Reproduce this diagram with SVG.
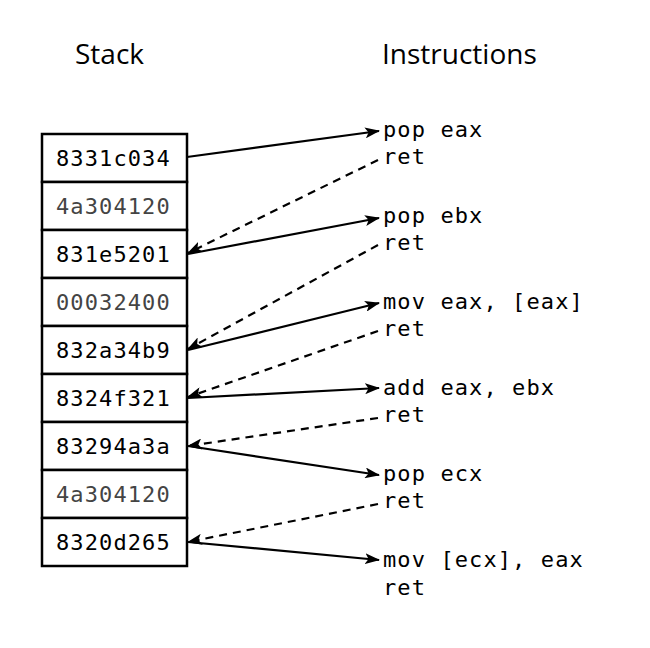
<svg xmlns="http://www.w3.org/2000/svg" width="650" height="648" viewBox="0 0 650 648">
<style>
.h{font-family:"Open Sans","Noto Sans",sans-serif;font-size:28px;fill:#000}
.m{font-family:"DejaVu Sans Mono",monospace;font-size:22px;letter-spacing:1.1px;fill:#000}
.g{fill:#444}
.cell{fill:#fff;stroke:#000;stroke-width:2.5}
.s{fill:none;stroke:#000;stroke-width:2.2}
.d{fill:none;stroke:#000;stroke-width:2.2;stroke-dasharray:8 6}
</style>
<defs>
<marker id="ah" viewBox="0 0 15 11" refX="14" refY="5.5" markerWidth="15" markerHeight="11" markerUnits="userSpaceOnUse" orient="auto">
<path d="M0,0 L15,5.5 L0,11 L3.5,5.5 Z" fill="#000"/>
</marker>
</defs>
<rect width="650" height="648" fill="#fff"/>
<text class="h" x="75" y="64">Stack</text>
<text class="h" x="382" y="64">Instructions</text>
<g id="stack">
<g id="s1"><rect class="cell" x="42" y="134" width="145" height="48"/><text class="m" x="56" y="166">8331c034</text></g>
<g id="s2"><rect class="cell" x="42" y="182" width="145" height="48"/><text class="m g" x="56" y="214">4a304120</text></g>
<g id="s3"><rect class="cell" x="42" y="230" width="145" height="48"/><text class="m" x="56" y="262">831e5201</text></g>
<g id="s4"><rect class="cell" x="42" y="278" width="145" height="48"/><text class="m g" x="56" y="310">00032400</text></g>
<g id="s5"><rect class="cell" x="42" y="326" width="145" height="48"/><text class="m" x="56" y="358">832a34b9</text></g>
<g id="s6"><rect class="cell" x="42" y="374" width="145" height="48"/><text class="m" x="56" y="406">8324f321</text></g>
<g id="s7"><rect class="cell" x="42" y="422" width="145" height="48"/><text class="m" x="56" y="454">83294a3a</text></g>
<g id="s8"><rect class="cell" x="42" y="470" width="145" height="48"/><text class="m g" x="56" y="502">4a304120</text></g>
<g id="s9"><rect class="cell" x="42" y="518" width="145" height="48"/><text class="m" x="56" y="550">8320d265</text></g>
</g>
<g id="instructions">
<g id="i1"><text class="m" x="383" y="137">pop eax</text><text class="m" x="383" y="164">ret</text></g>
<g id="i2"><text class="m" x="383" y="223">pop ebx</text><text class="m" x="383" y="250">ret</text></g>
<g id="i3"><text class="m" x="383" y="309">mov eax, [eax]</text><text class="m" x="383" y="336">ret</text></g>
<g id="i4"><text class="m" x="383" y="395">add eax, ebx</text><text class="m" x="383" y="422">ret</text></g>
<g id="i5"><text class="m" x="383" y="481">pop ecx</text><text class="m" x="383" y="508">ret</text></g>
<g id="i6"><text class="m" x="383" y="567">mov [ecx], eax</text><text class="m" x="383" y="595">ret</text></g>
</g>
<g id="connectors">
<line class="s" x1="187" y1="157" x2="379" y2="131" marker-end="url(#ah)"/>
<line class="s" x1="188" y1="254" x2="379" y2="218" marker-end="url(#ah)"/>
<line class="s" x1="188" y1="350" x2="379" y2="303" marker-end="url(#ah)"/>
<line class="s" x1="188" y1="398" x2="379" y2="388" marker-end="url(#ah)"/>
<line class="s" x1="188" y1="446" x2="379" y2="475" marker-end="url(#ah)"/>
<line class="s" x1="188" y1="542" x2="379" y2="560" marker-end="url(#ah)"/>
<line class="d" x1="378" y1="160" x2="188" y2="253" marker-end="url(#ah)"/>
<line class="d" x1="378" y1="245" x2="188" y2="349" marker-end="url(#ah)"/>
<line class="d" x1="378" y1="331" x2="188" y2="397" marker-end="url(#ah)"/>
<line class="d" x1="378" y1="418" x2="188" y2="446" marker-end="url(#ah)"/>
<line class="d" x1="378" y1="504" x2="188" y2="542" marker-end="url(#ah)"/>
</g>
</svg>
